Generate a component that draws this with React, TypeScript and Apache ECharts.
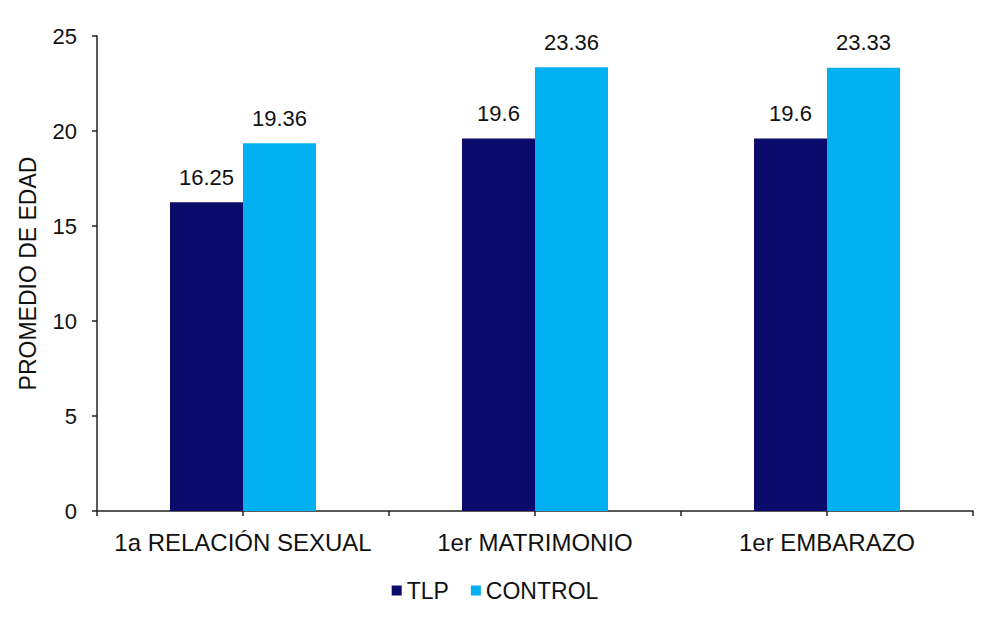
import React, { useEffect, useRef } from "react";
import * as echarts from "echarts";

const categories = ["1a RELACIÓN SEXUAL", "1er MATRIMONIO", "1er EMBARAZO"];
const tlpValues = [16.25, 19.6, 19.6];
const controlValues = [19.36, 23.36, 23.33];
const seriesNames = ["TLP", "CONTROL"];
const halfTicks = ["", "", "", "", "", ""];

const FONT = "Liberation Sans, Arial, sans-serif";

export default function App() {
  const ref = useRef<HTMLDivElement>(null);

  useEffect(() => {
    if (!ref.current) return;
    const chart = echarts.init(ref.current, undefined, { renderer: "svg" });
    const labelStyle = {
      show: true,
      position: "top" as const,
      distance: 14,
      fontSize: 22,
      color: "#111",
      fontFamily: FONT,
    };
    chart.setOption({
      animation: false,
      backgroundColor: "#ffffff",
      textStyle: { fontFamily: FONT },
      grid: { left: 97, right: 17, top: 36, bottom: 112, containLabel: false },
      legend: {
        data: seriesNames,
        bottom: 16,
        left: "center",
        itemWidth: 10,
        itemHeight: 10,
        itemGap: 22,
        icon: "rect",
        textStyle: { fontSize: 23, color: "#111", fontFamily: FONT },
      },
      xAxis: [
        {
          type: "category",
          data: categories,
          axisLine: { show: true, lineStyle: { color: "#222", width: 1.5 } },
          axisTick: { show: false },
          axisLabel: {
            interval: 0,
            hideOverlap: false,
            fontSize: 24,
            color: "#111",
            margin: 19,
            fontFamily: FONT,
          },
        },
        {
          type: "category",
          data: halfTicks,
          position: "bottom",
          axisLine: { show: false },
          axisTick: { show: true, length: 5, lineStyle: { color: "#222", width: 1.5 } },
          axisLabel: { show: false },
        },
      ],
      yAxis: {
        type: "value",
        min: 0,
        max: 25,
        interval: 5,
        name: "PROMEDIO DE EDAD",
        nameLocation: "middle",
        nameGap: 58,
        nameRotate: 90,
        nameTextStyle: { fontSize: 23, color: "#111", fontFamily: FONT },
        axisLine: { show: true, lineStyle: { color: "#222", width: 1.5 } },
        axisTick: { show: true, length: 5, lineStyle: { color: "#222", width: 1.5 } },
        axisLabel: { fontSize: 22, color: "#111", margin: 20, fontFamily: FONT },
        splitLine: { show: false },
      },
      series: [
        {
          name: seriesNames[0],
          type: "bar",
          data: tlpValues,
          barWidth: 73,
          barGap: "0%",
          itemStyle: { color: "#0b0b6c" },
          label: labelStyle,
        },
        {
          name: seriesNames[1],
          type: "bar",
          data: controlValues,
          barWidth: 73,
          barGap: "0%",
          itemStyle: { color: "#00b0f0" },
          label: labelStyle,
        },
      ],
    });
    return () => chart.dispose();
  }, []);

  return (
    <div
      ref={ref}
      style={{ position: "absolute", left: 0, top: 0, width: 990, height: 623 }}
    />
  );
}
